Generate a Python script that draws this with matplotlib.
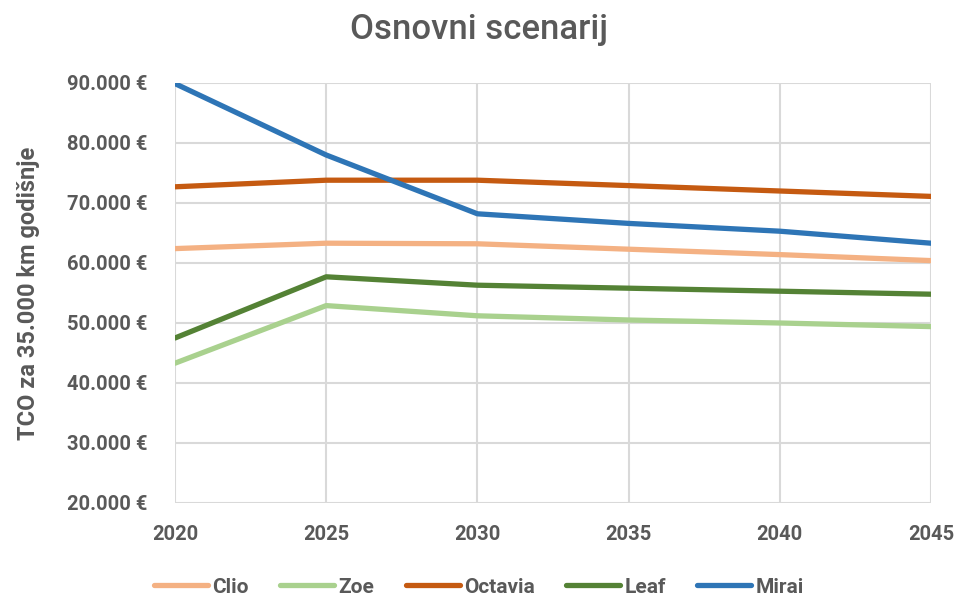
import numpy as np
import matplotlib
matplotlib.use('Agg')
import matplotlib.pyplot as plt
from matplotlib.ticker import FuncFormatter

years   = [2020, 2025, 2030, 2035, 2040, 2045]
clio    = [62400, 63300, 63200, 62300, 61400, 60400]
zoe     = [43300, 52900, 51200, 50500, 50000, 49400]
octavia = [72700, 73800, 73800, 72900, 72000, 71100]
leaf    = [47500, 57700, 56300, 55800, 55300, 54800]
mirai   = [89900, 78000, 68200, 66600, 65300, 63300]

series = [('Clio', clio, '#f4b183'),
          ('Zoe', zoe, '#a9d18e'),
          ('Octavia', octavia, '#c55a11'),
          ('Leaf', leaf, '#548235'),
          ('Mirai', mirai, '#2e75b6')]

txt = '#595959'
plt.rc('font', family=['Roboto', 'DejaVu Sans'], weight='bold')

fig = plt.figure(figsize=(9.58, 5.96), dpi=100)
ax = fig.add_axes([175/958, 1-503/596, (931-175)/958, (503-83)/596])

for name, vals, col in series:
    ax.plot(years, vals, color=col, lw=3.8, label=name, solid_capstyle='round', zorder=3)

ax.set_xlim(2020, 2045)
ax.set_ylim(20000, 90000)
ax.set_xticks(years)
ax.set_yticks(np.arange(20000, 90001, 10000))
ax.yaxis.set_major_formatter(FuncFormatter(lambda v, p: '{:,.0f} €'.format(v).replace(',', '.')))
ax.grid(True, color='#d9d9d9', lw=1.5, zorder=0)
for s in ax.spines.values():
    s.set_visible(False)
ax.tick_params(length=0, colors=txt, labelsize=14.5)
ax.tick_params(axis='x', pad=16)
ax.tick_params(axis='y', pad=20)

ax.set_ylabel('TCO za 35.000 km godišnje', color=txt, fontsize=17, fontweight='bold', labelpad=19)
fig.text(0.5, 0.95, 'Osnovni scenarij', ha='center', va='center', color=txt, fontsize=25,
         fontweight='medium')

leg = fig.legend(loc='center', bbox_to_anchor=(0.5, 0.015), ncol=5, frameon=False,
                 handlelength=2.6, handletextpad=0.2, columnspacing=1.5, fontsize=15)
for t in leg.get_texts():
    t.set_color(txt)

plt.savefig('out.png', dpi=100)
